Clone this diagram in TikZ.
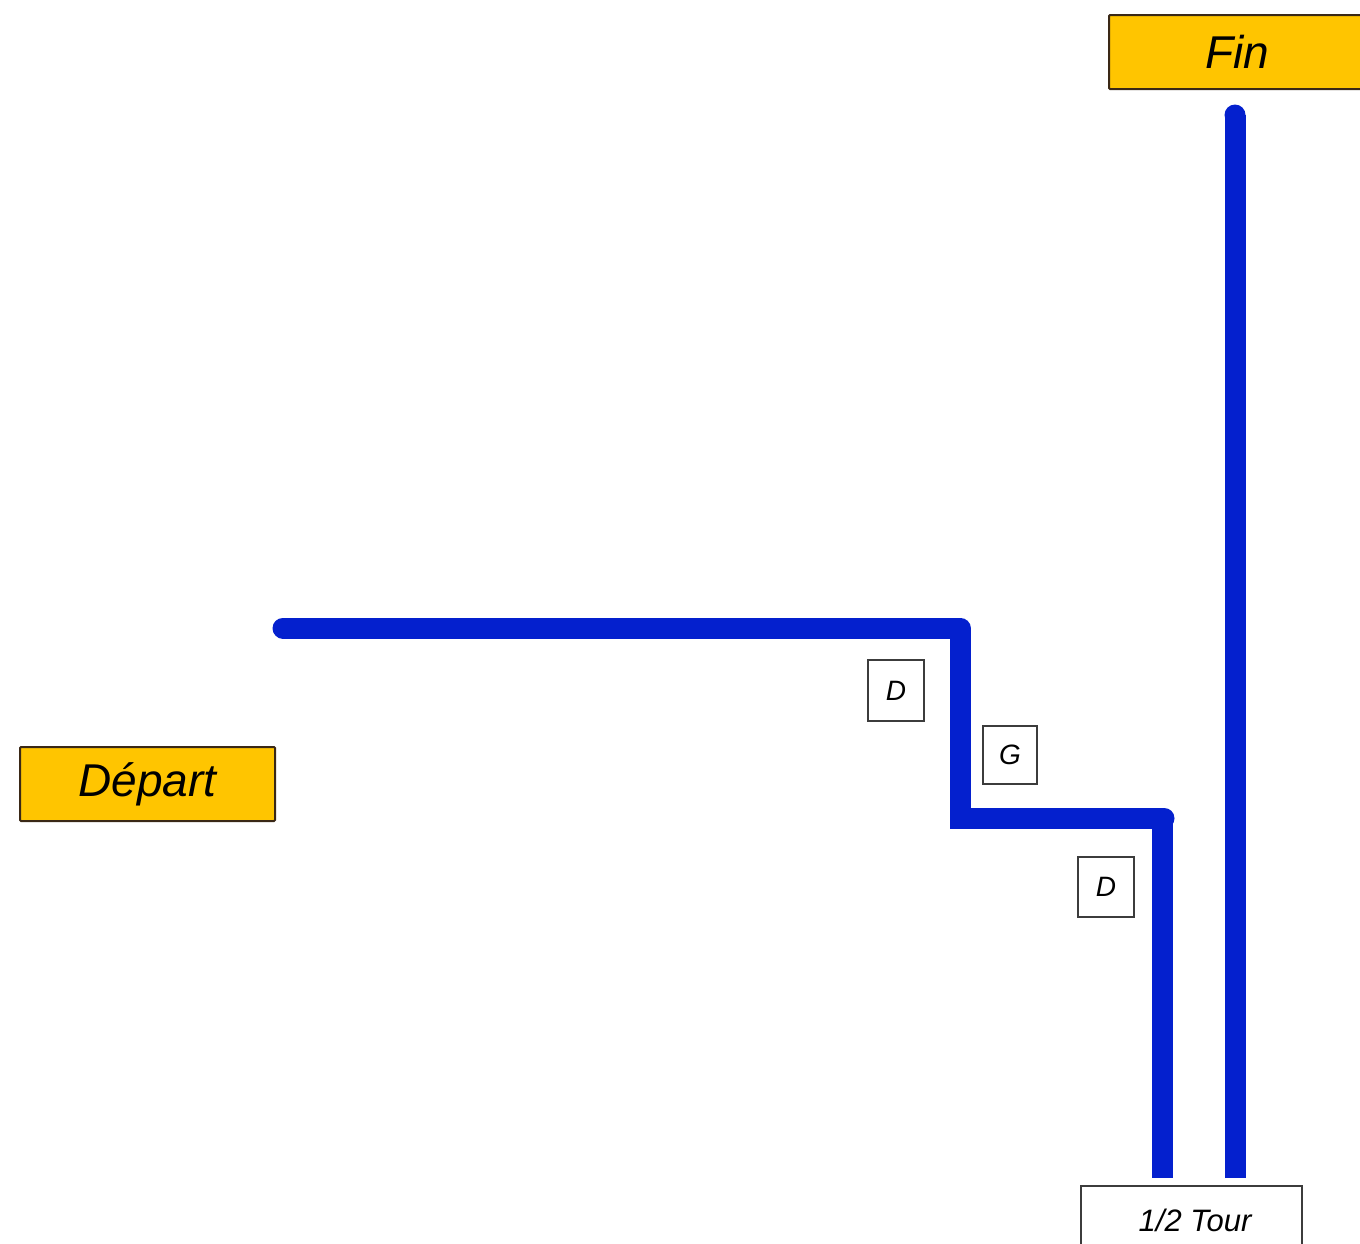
\documentclass[tikz,border=0pt]{standalone}
\usepackage{fontspec}
\setmainfont{Liberation Sans}
\definecolor{routeblue}{RGB}{4,32,206}
\definecolor{signyellow}{RGB}{255,197,0}
\definecolor{signedge}{RGB}{58,40,22}
\definecolor{boxedge}{RGB}{60,60,60}
\tikzset{
  route/.style={draw=routeblue,line width=21pt},
  sign/.style={draw=signedge,fill=signyellow,line width=2pt,rounded corners=1pt,inner sep=0pt,
    font=\fontsize{46}{50}\selectfont\itshape},
  turnbox/.style={draw=boxedge,fill=white,line width=1.3pt,inner sep=0pt,
    font=\fontsize{28}{30}\selectfont\itshape},
  halfbox/.style={draw=boxedge,fill=white,line width=1.5pt,inner sep=0pt,
    font=\fontsize{31}{34}\selectfont\itshape}
}
\begin{document}
\begin{tikzpicture}[x=1pt,y=-1pt]
\useasboundingbox (0,0) rectangle (1360,1243);
% signs
\node[sign,minimum width=255pt,minimum height=74pt] (depart) at (147.5,784) {Départ};
\node[sign,minimum width=256pt,minimum height=74pt] (fin) at (1237,52) {Fin};
% route points
\coordinate (p0) at (283,628);
\coordinate (p1) at (960,628);
\coordinate (p1b) at (960,760);
\coordinate (p2) at (960,818);
\coordinate (p3) at (1164,818);
\coordinate (p3b) at (1100,818);
\coordinate (p3c) at (1080,818);
\coordinate (p3d) at (1162,818);
\coordinate (p4) at (1162,1178);
\coordinate (q0) at (1235,115);
\coordinate (q1) at (1235,1178);
% route
\draw[route,line cap=round,line join=round] (p0) -- (p1) -- (p1b);
\draw[route,line cap=butt,line join=miter] (p1) -- (p2) -- (p3b);
\draw[route,line cap=round] (p3c) -- (p3);
\draw[route,line cap=butt] (p3d) -- (p4);
\draw[route,line cap=butt] (q1) -- (q0);
\fill[routeblue] (q0) circle (10.5pt);
% turn boxes
\node[turnbox,minimum width=56pt,minimum height=61pt] (d1) at (896,690.5) {D};
\node[turnbox,minimum width=54pt,minimum height=58pt] (g1) at (1010,755) {G};
\node[turnbox,minimum width=56pt,minimum height=60pt] (d2) at (1106,887) {D};
% half turn box
\node[halfbox,minimum width=221pt,minimum height=80pt,anchor=north] (half) at (1191.5,1185) {};
\node[font=\fontsize{31}{34}\selectfont\itshape] (halflabel) at (1195,1220) {1/2 Tour};
\end{tikzpicture}
\end{document}
